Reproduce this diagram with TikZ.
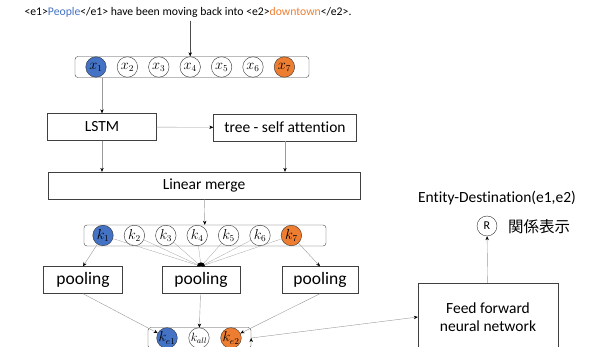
\documentclass[tikz,border=0pt]{standalone}
\usepackage{fontspec}
\setmainfont{Carlito}[Ligatures=NoCommon]
\newfontfamily\jpfont{Noto Sans CJK JP}
\usetikzlibrary{positioning,arrows.meta}
\definecolor{entblue}{HTML}{4472C4}
\definecolor{entorange}{HTML}{ED7D31}

\begin{document}
\begin{tikzpicture}[x=1pt,y=-1pt,>={Stealth[length=4pt,width=3.4pt,color=black]},node distance=31.4pt,on grid,
    tok/.style={circle,draw=black!80,thin,fill=white,minimum size=20.5pt,inner sep=0pt,font=\fontsize{13.5}{14}\selectfont},
    etokA/.style={tok,fill=entblue},
    etokB/.style={tok,fill=entorange},
    tokrow/.style={draw=black!75,thin,rounded corners=3pt,minimum height=21pt},
    block/.style={draw=black!75,thin,minimum height=27pt,font=\fontsize{15.5}{18}\selectfont},
    link/.style={draw=black!40,thin},
    fan/.style={draw=black!45,very thin}]
    \useasboundingbox (0,0) rectangle (590,347);

    \node[font=\fontsize{11.7}{13}\selectfont] (sent) at (188,12) {<e1>\textcolor{entblue}{People}</e1> have been moving back into <e2>\textcolor{entorange}{downtown}</e2>.};

    \node[tokrow,minimum width=234pt] (xrow) at (192,67) {};
    \node[etokA] (x1) at (96,67) {$x_1$};
    \node[tok] (x2) [right=of x1] {$x_2$};
    \node[tok] (x3) [right=of x2] {$x_3$};
    \node[tok] (x4) [right=of x3] {$x_4$};
    \node[tok] (x5) [right=of x4] {$x_5$};
    \node[tok] (x6) [right=of x5] {$x_6$};
    \node[etokB] (x7) [right=of x6] {$x_7$};

    \node[block,minimum width=109pt] (lstm) at (102,127) {LSTM};
    \node[block,minimum width=143pt] (tree) at (285,127.5) {tree - self attention};
    \node[block,minimum width=312pt] (merge) at (204,185.5) {Linear merge};

    \node[tokrow,minimum width=242pt] (krow) at (205,235.5) {};
    \node[etokA] (k1) at (103,235.5) {$k_1$};
    \node[tok] (k2) [right=of k1] {$k_2$};
    \node[tok] (k3) [right=of k2] {$k_3$};
    \node[tok] (k4) [right=of k3] {$k_4$};
    \node[tok] (k5) [right=of k4] {$k_5$};
    \node[tok] (k6) [right=of k5] {$k_6$};
    \node[etokB] (k7) [right=of k6] {$k_7$};

    \node[block,minimum width=79pt,font=\fontsize{17.5}{20}\selectfont] (poolA) at (83,280) {pooling};
    \node[block,minimum width=78pt,font=\fontsize{17.5}{20}\selectfont] (poolB) at (201,280) {pooling};
    \node[block,minimum width=76pt,font=\fontsize{17.5}{20}\selectfont] (poolC) at (320,280) {pooling};
    \coordinate (join) at (poolB.north);

    \node[tokrow,minimum width=103pt] (erow) at (199.5,338) {};
    \node[etokA] (ke1) at (167,338) {$k_{e1}$};
    \node[tok,font=\fontsize{11.5}{12}\selectfont] (kall) at (199,338) {$k_{all}$};
    \node[etokB] (ke2) at (231,338) {$k_{e2}$};

    \node[block,minimum width=140pt,minimum height=68pt,align=center] (ffn) at (488,317) {Feed forward\\neural network};
    \node[circle,draw=black!80,thin,minimum size=20pt,inner sep=0pt,font=\fontsize{12}{13}\selectfont] (rel) at (487,226) {R};
    \node[font=\fontsize{15.5}{18}\selectfont\jpfont] (reltxt) at (539,227) {関係表示};
    \node[font=\fontsize{15.5}{18}\selectfont] (rname) at (497,198) {Entity-Destination(e1,e2)};

    % connectors
    \draw[->,black!70] (sent.south -| x4) -- (xrow.north -| x4);
    \path[->,link]
    (xrow.south -| lstm) edge (lstm)
    (lstm) edge (tree)
    (lstm) edge (merge.north -| lstm)
    (tree) edge (merge.north -| tree)
    (merge) edge (krow)
    (k1) edge (poolA.north)
    (k7) edge (poolC.north)
    (poolA.south) edge (ke1)
    (poolB) edge (kall)
    (poolC.south) edge (ke2)
    (erow.east) edge (ffn.west)
    (ffn) edge (rel);

    % attention fan into the middle pooling
    \path[fan]
    (k1) edge (join) (k2) edge (join) (k3) edge (join) (k4) edge (join)
    (k5) edge (join) (k6) edge (join) (k7) edge (join);
    \fill ([xshift=-4pt]join) arc (180:0:4pt) -- cycle;
\end{tikzpicture}
\end{document}
